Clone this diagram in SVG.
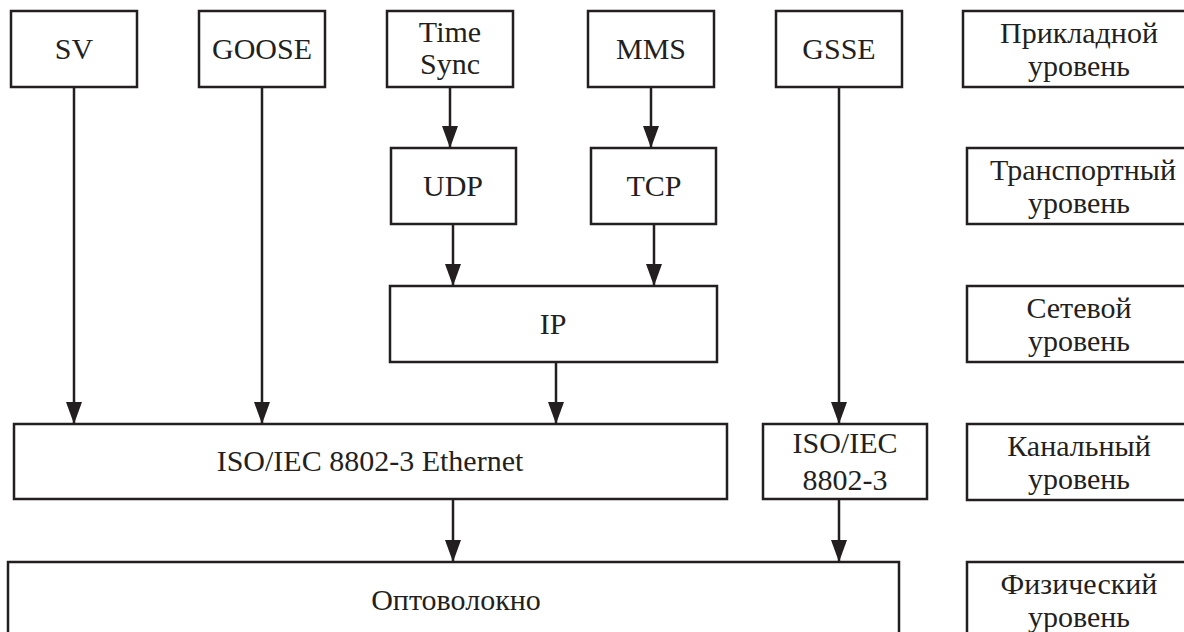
<svg xmlns="http://www.w3.org/2000/svg" width="1184" height="632" viewBox="0 0 1184 632">
<style>
.box{fill:#fff;stroke:#231f20;stroke-width:2.5}
text{font-family:'Liberation Serif','Times New Roman',Times,serif;font-size:30px;fill:#231f20;text-anchor:middle}
.conn line{stroke:#231f20;stroke-width:2.5;marker-end:url(#ah)}
</style>
<defs>
<marker id="ah" markerUnits="userSpaceOnUse" viewBox="0 0 22 16" markerWidth="22" markerHeight="16" refX="22" refY="8" orient="auto">
<path d="M0,0 L22,8 L0,16 Z" fill="#231f20"/>
</marker>
</defs>
<rect width="1184" height="632" fill="#fff"/>
<g id="n-sv"><rect class="box" x="11" y="11" width="126" height="76"/><text x="74" y="59">SV</text></g>
<g id="n-goose"><rect class="box" x="199" y="11" width="126" height="76"/><text x="262" y="59">GOOSE</text></g>
<g id="n-timesync"><rect class="box" x="387" y="11" width="126" height="76"/><text x="450" y="42">Time</text><text x="450" y="74">Sync</text></g>
<g id="n-mms"><rect class="box" x="588" y="11" width="126" height="76"/><text x="651" y="59">MMS</text></g>
<g id="n-gsse"><rect class="box" x="776" y="11" width="126" height="76"/><text x="839" y="59">GSSE</text></g>
<g id="n-app"><rect class="box" x="963" y="11" width="232" height="76"/><text x="1079" y="43">Прикладной</text><text x="1079" y="76">уровень</text></g>
<g id="n-udp"><rect class="box" x="391" y="148" width="125" height="76"/><text x="453" y="196">UDP</text></g>
<g id="n-tcp"><rect class="box" x="591" y="148" width="125" height="76"/><text x="654" y="196">TCP</text></g>
<g id="n-transport"><rect class="box" x="967" y="148" width="228" height="76"/><text x="1083" y="180">Транспортный</text><text x="1079" y="213">уровень</text></g>
<g id="n-ip"><rect class="box" x="390" y="286" width="327" height="76"/><text x="553" y="334">IP</text></g>
<g id="n-network"><rect class="box" x="967" y="286" width="228" height="76"/><text x="1079" y="318">Сетевой</text><text x="1079" y="351">уровень</text></g>
<g id="n-ethernet"><rect class="box" x="14" y="424" width="713" height="75"/><text x="370" y="471">ISO/IEC 8802-3 Ethernet</text></g>
<g id="n-iso"><rect class="box" x="763" y="424" width="164" height="75"/><text x="845" y="453">ISO/IEC</text><text x="845" y="490">8802-3</text></g>
<g id="n-datalink"><rect class="box" x="967" y="424" width="228" height="76"/><text x="1079" y="456">Канальный</text><text x="1079" y="489">уровень</text></g>
<g id="n-fiber"><rect class="box" x="8" y="562" width="891" height="76"/><text x="456" y="610">Оптоволокно</text></g>
<g id="n-physical"><rect class="box" x="967" y="562" width="228" height="76"/><text x="1079" y="594">Физический</text><text x="1079" y="627">уровень</text></g>
<g id="connectors" class="conn">
<line x1="74" y1="87" x2="74" y2="424"/>
<line x1="262" y1="87" x2="262" y2="424"/>
<line x1="450" y1="87" x2="450" y2="148"/>
<line x1="651" y1="87" x2="651" y2="148"/>
<line x1="453" y1="224" x2="453" y2="286"/>
<line x1="654" y1="224" x2="654" y2="286"/>
<line x1="556" y1="362" x2="556" y2="424"/>
<line x1="839" y1="87" x2="839" y2="424"/>
<line x1="453" y1="499" x2="453" y2="562"/>
<line x1="839" y1="499" x2="839" y2="562"/>
</g>
</svg>
